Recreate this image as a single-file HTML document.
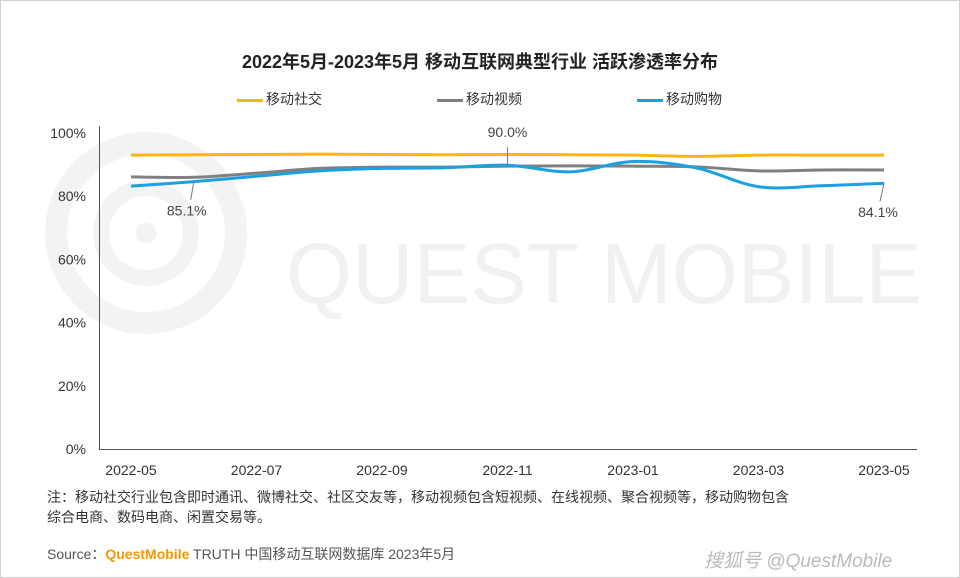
<!DOCTYPE html>
<html><head><meta charset="utf-8"><style>
body{margin:0;background:#fff;font-family:"Liberation Sans","Noto Sans CJK SC",sans-serif}
#wrap{position:relative;width:958px;height:576px;border:1px solid #d0d0d0;overflow:hidden}
.t{position:absolute;white-space:nowrap}
</style></head><body>
<div id="wrap">
<svg width="958" height="576" style="position:absolute;left:0;top:0">
<g fill="none" stroke="#f3f3f3">
<circle cx="145" cy="232" r="90" stroke-width="22"/><circle cx="145" cy="232" r="45" stroke-width="16"/><circle cx="145" cy="232" r="10" fill="#f3f3f3"/>
</g>
<text x="285" y="302" font-size="85" fill="#f1f1f1" font-family="Liberation Sans">QUEST MOBILE</text>
<g id="plot"></g>
</svg>
<div class="t" style="left:0;width:958px;text-align:center;top:47px;font-size:18px;font-weight:bold;color:#222">2022年5月-2023年5月 移动互联网典型行业 活跃渗透率分布</div>
<div class="t" style="left:236px;top:88px;font-size:14px;color:#333"><span style="display:inline-block;width:26px;height:3px;background:#FDB515;vertical-align:middle;margin-right:3px"></span>移动社交</div>
<div class="t" style="left:436px;top:88px;font-size:14px;color:#333"><span style="display:inline-block;width:26px;height:3px;background:#808080;vertical-align:middle;margin-right:3px"></span>移动视频</div>
<div class="t" style="left:636px;top:88px;font-size:14px;color:#333"><span style="display:inline-block;width:26px;height:3px;background:#1BA1E2;vertical-align:middle;margin-right:3px"></span>移动购物</div>
<div class="t" style="left:46px;top:486px;font-size:14px;color:#333;line-height:20px">注：移动社交行业包含即时通讯、微博社交、社区交友等，移动视频包含短视频、在线视频、聚合视频等，移动购物包含<br>综合电商、数码电商、闲置交易等。</div>
<div class="t" style="left:46px;top:543px;font-size:14px;color:#555">Source：<span style="color:#F39800;font-weight:bold">QuestMobile</span> TRUTH 中国移动互联网数据库 2023年5月</div>
<div class="t" style="left:703px;top:545px;font-size:19px;color:#bbb;font-style:italic">搜狐号 @QuestMobile</div>
</div>
<script>
const categories=["2022-05","2022-06","2022-07","2022-08","2022-09","2022-10","2022-11","2022-12","2023-01","2023-02","2023-03","2023-04","2023-05"];
const social=[93.0,93.1,93.2,93.3,93.2,93.1,93.2,93.1,93.0,92.6,93.0,93.0,93.0];
const video=[86.1,86.0,87.3,88.8,89.2,89.2,89.5,89.6,89.5,89.3,88.0,88.3,88.3];
const shopping=[83.2,84.6,86.3,88.0,88.8,89.0,89.8,87.7,91.0,89.0,83.0,83.3,84.1];
const yTicks=[0,20,40,60,80,100];
const xTickLabels=["2022-05","2022-07","2022-09","2022-11","2023-01","2023-03","2023-05"];
const callouts=[{s:"shopping",i:1,label:"85.1%",dy:26},{s:"shopping",i:6,label:"90.0%",dy:-28},{s:"shopping",i:12,label:"84.1%",dy:26}];
const NS="http://www.w3.org/2000/svg";
const g=document.getElementById('plot');
const X0=130,X1=883,Y0=448,Y1=132;
const x=i=>X0+(X1-X0)*i/(categories.length-1);
const y=v=>Y0-(Y0-Y1)*v/100;
function el(t,a){const e=document.createElementNS(NS,t);for(const k in a)e.setAttribute(k,a[k]);g.appendChild(e);return e;}
yTicks.forEach(v=>{const t=el('text',{x:85,y:y(v)+5,'text-anchor':'end','font-size':14,fill:'#333'});t.textContent=v+'%';

});
const ax=el('line',{x1:98,x2:916,y1:Y0+0.5,y2:Y0+0.5,stroke:'#555'});


const ay=el('line',{x1:98.5,x2:98.5,y1:125,y2:Y0,stroke:'#555'});


xTickLabels.forEach(l=>{const i=categories.indexOf(l);const t=el('text',{x:x(i),y:474,'text-anchor':'middle','font-size':14,fill:'#333'});t.textContent=l;

});
function path(d){const p=d.map((v,i)=>[x(i),y(v)]);let s='M'+p[0][0]+','+p[0][1];
for(let i=0;i<p.length-1;i++){const a=p[Math.max(0,i-1)],b=p[i],c=p[i+1],e=p[Math.min(p.length-1,i+2)];
s+=' C'+(b[0]+(c[0]-a[0])/6)+','+(b[1]+(c[1]-a[1])/6)+' '+(c[0]-(e[0]-b[0])/6)+','+(c[1]-(e[1]-b[1])/6)+' '+c[0]+','+c[1];}return s;}
const series={social:[social,'#FDB515'],video:[video,'#808080'],shopping:[shopping,'#1BA1E2']};
for(const k in series){const p=el('path',{d:path(series[k][0]),fill:'none',stroke:series[k][1],'stroke-width':3});

}
callouts.forEach(c=>{const v=series[c.s][0][c.i];const px=x(c.i),py=y(v);
const l=el('line',{x1:px,y1:py,x2:px+(c.i==12?-4:c.i==1?-3:0),y2:py+(c.dy>0?c.dy-8:c.dy+10),stroke:'#777'});


const t=el('text',{x:px+(c.i==12?-6:c.i==1?-7:0),y:py+c.dy+(c.dy>0?8:0),'text-anchor':'middle','font-size':14,fill:'#444'});t.textContent=c.label;

});
</script>
</body></html>
